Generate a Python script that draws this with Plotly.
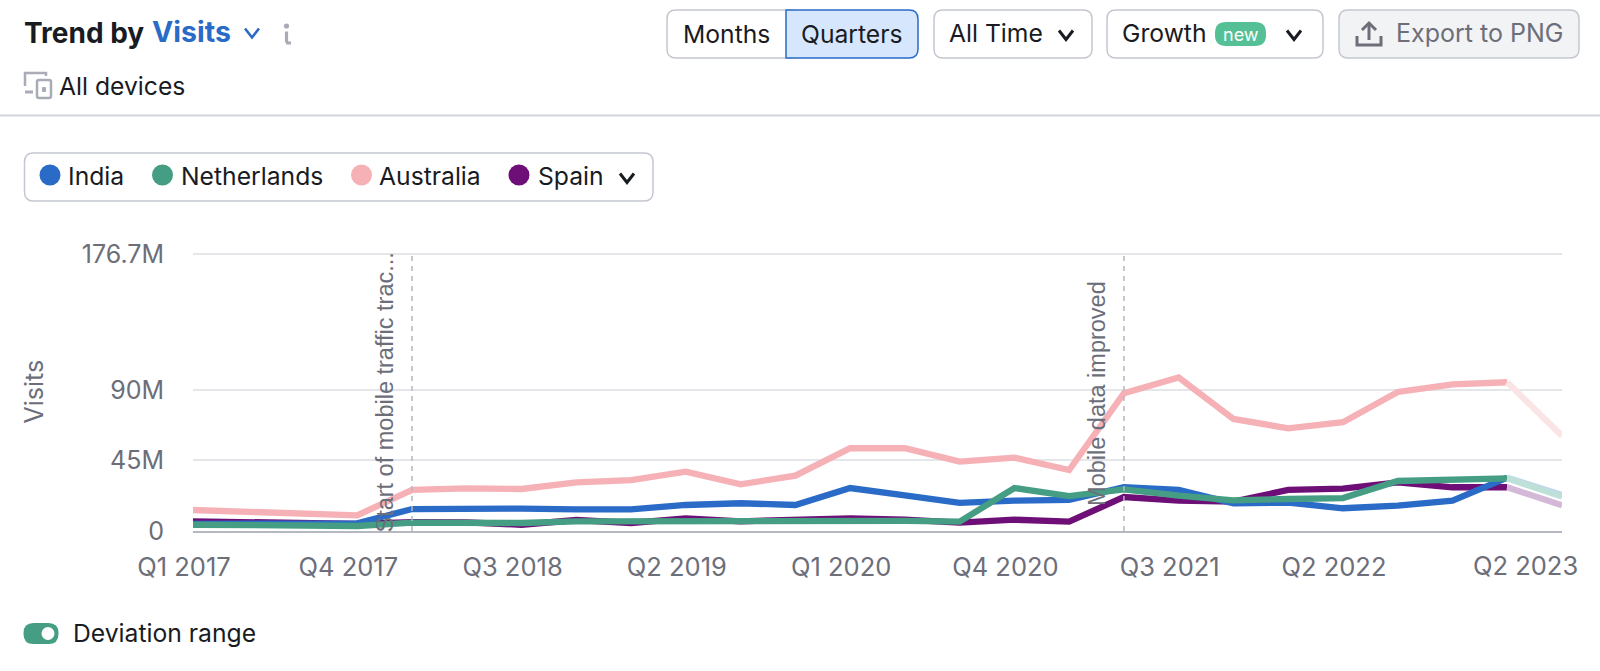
import plotly.graph_objects as go

quarters = [f"Q{q} {y}" for y in range(2017, 2024) for q in range(1, 5)][:26]
india = [4.5, 4.9, 5.0, 4.9, 14.0, 14.5, 14.3, 13.8, 13.8, 16.6, 17.7, 16.6, 27.4, 22.8, 17.9, 19.4, 19.8, 27.9, 26.2, 17.7, 18.1, 14.5, 16.2, 19.4, 34.0, 23.0]
netherlands = [4.0, 3.6, 3.2, 3.2, 5.3, 5.3, 5.1, 6.2, 6.4, 6.6, 6.0, 6.8, 6.8, 6.4, 6.0, 27.4, 22.3, 26.6, 22.6, 19.6, 20.4, 21.0, 31.9, 33.0, 33.6, 22.0]
australia = [13.4, 12.3, 10.6, 10.0, 26.2, 27.2, 26.8, 31.0, 32.5, 37.9, 29.8, 35.3, 52.8, 52.8, 44.3, 46.8, 38.9, 87.9, 98.0, 71.5, 65.5, 69.4, 88.7, 93.6, 94.9, 60.6]
spain = [6.2, 5.3, 4.7, 4.5, 5.7, 5.5, 4.0, 7.0, 5.1, 8.0, 6.2, 7.4, 8.1, 7.2, 5.3, 7.2, 6.0, 21.7, 19.4, 18.7, 26.2, 27.0, 31.0, 27.9, 27.9, 16.4]
y_ticks = [0, 45, 90, 176.7]
y_labels = ["0", "45M", "90M", "176.7M"]
x_tick_labels = ["Q1 2017", "Q4 2017", "Q3 2018", "Q2 2019", "Q1 2020", "Q4 2020", "Q3 2021", "Q2 2022"]
last_label = "Q2 2023"

W, H = 1600, 671
L, R, T, B = 193, 1562, 252, 531
FONT = "Inter"
DARK, GRAY = "#191B23", "#6C6E79"
BLUE, GREEN, PINK, PURPLE = "#2A6BC7", "#459E84", "#F5B1B6", "#6E0F78"
ICON = "#A9ABB6"
TXT = 24.7
Y_TOP = (B - T) / 1.5675


def fx(p):
    return (p - L) / (R - L)


def fy(p):
    return (B - p) / (B - T)


fig = go.Figure()
for name, vals, col, pale in [("Australia", australia, PINK, "#FBE4E5"), ("Spain", spain, PURPLE, "#D4B8D8"),
                              ("India", india, BLUE, "#BFD3EF"), ("Netherlands", netherlands, GREEN, "#BDE0D8")]:
    fig.add_trace(go.Scatter(x=quarters[:-1], y=vals[:-1], mode="lines", name=name,
                             line=dict(color=col, width=6.3), showlegend=False))
    fig.add_trace(go.Scatter(x=quarters[-2:], y=vals[-2:], mode="lines", name=name + " (partial)",
                             line=dict(color=pale, width=6.3), showlegend=False))

shapes, ann = [], []


def rect(x0, y0, x1, y1, fill="white", line="#C4C7CF", lw=1.5, r=9, rl=None):
    rl = r if rl is None else rl
    path = (f"M{fx(x0+rl)},{fy(y0)} L{fx(x1-r)},{fy(y0)} Q{fx(x1)},{fy(y0)} {fx(x1)},{fy(y0+r)} "
            f"L{fx(x1)},{fy(y1-r)} Q{fx(x1)},{fy(y1)} {fx(x1-r)},{fy(y1)} "
            f"L{fx(x0+rl)},{fy(y1)} Q{fx(x0)},{fy(y1)} {fx(x0)},{fy(y1-rl)} "
            f"L{fx(x0)},{fy(y0+rl)} Q{fx(x0)},{fy(y0)} {fx(x0+rl)},{fy(y0)} Z")
    shapes.append(dict(type="path", xref="paper", yref="paper", path=path, fillcolor=fill,
                       line=dict(color=line, width=lw), layer="above"))


def stroke(pts, color=DARK, lw=3):
    path = "M" + " L".join(f"{fx(x)},{fy(y)}" for x, y in pts)
    shapes.append(dict(type="path", xref="paper", yref="paper", path=path,
                       line=dict(color=color, width=lw), layer="above"))


def chevron(cx, cy, color=DARK, w=7, h=4.5, lw=3):
    stroke([(cx - w, cy - h), (cx, cy + h), (cx + w, cy - h)], color, lw)


def dot(cx, cy, r, col):
    shapes.append(dict(type="circle", xref="paper", yref="paper", x0=fx(cx-r), x1=fx(cx+r),
                       y0=fy(cy+r), y1=fy(cy-r), fillcolor=col, line=dict(width=0), layer="above"))


def text(x, y, s, size=TXT, color=DARK, anchor="left"):
    ann.append(dict(xref="paper", yref="paper", x=fx(x - (2.5 if anchor == "left" else 0)), y=fy(y), text=s,
                    showarrow=False, xanchor=anchor, yanchor="middle",
                    font=dict(family=FONT, size=size, color=color)))


# header
text(24, 33, "<b>Trend by</b>", 28)
text(152, 31, "<b>Visits</b>", 28.5, BLUE)
chevron(252, 33, BLUE, lw=2.6)
dot(286.5, 26, 2.6, ICON)
stroke([(285, 33), (286.5, 33), (286.5, 41), (287.5, 43), (291, 43)], ICON, 3.2)
stroke([(46, 76), (46, 73), (25, 73), (25, 86)], ICON, 2.5)
stroke([(25, 92), (33, 92)], ICON, 3)
rect(37, 80, 51, 98, fill="white", line=ICON, lw=2.5, r=2)
rect(42, 87, 46, 92, fill=ICON, line=ICON, lw=0, r=1)
text(59, 86, "All devices")
shapes.append(dict(type="line", xref="paper", yref="paper", x0=fx(0), x1=fx(W), y0=fy(115.5), y1=fy(115.5),
                   line=dict(color="#D1D4DB", width=2), layer="above"))

# buttons
rect(667, 10, 800, 58)
rect(786, 10, 918, 58, fill="#D6E7FD", line=BLUE, r=9, rl=0.01)
text(726, 34, "Months", TXT, DARK, "center")
text(852, 34, "Quarters", TXT, DARK, "center")
rect(934, 10, 1092, 58)
text(949, 33, "All Time")
chevron(1066, 35)
rect(1107, 10, 1323, 58)
text(1122, 33, "Growth")
rect(1215, 22, 1266, 46, fill="#55BF96", line="#55BF96", lw=0, r=11)
text(1240.5, 34, "new", 18, "white", "center")
chevron(1294, 35)
rect(1339, 10, 1579, 58, fill="#F2F3F5")
text(1396, 33, "Export to PNG", 25, GRAY)
stroke([(1357, 36), (1357, 45), (1381, 45), (1381, 36)], GRAY, 3)
stroke([(1369, 40), (1369, 23)], GRAY, 3)
stroke([(1362, 30), (1369, 23), (1376, 30)], GRAY, 3)

# legend box
rect(24.5, 153, 653, 201)
for cx, col, lab, tx in [(50, BLUE, "India", 68), (162.5, GREEN, "Netherlands", 181),
                         (361.5, PINK, "Australia", 379.5), (519, PURPLE, "Spain", 538)]:
    dot(cx, 175, 10.5, col)
    text(tx, 176, lab)
chevron(627, 178)

# toggle
rect(23.5, 623, 58.5, 644, fill=GREEN, line=GREEN, lw=0, r=10)
dot(48, 633.5, 6.5, "white")
text(73.5, 632.5, "Deviation range")

# event lines
for q, label, shift, yc in [("Q1 2018", "Start of mobile traffic trac...", -28, 392.5),
                            ("Q2 2021", "Mobile data improved", -27, 393)]:
    shapes.append(dict(type="line", xref="x", yref="paper", x0=q, x1=q, y0=0, y1=1,
                       line=dict(color="#B5B8C0", width=1.5, dash="5px,5px"), layer="above"))
    ann.append(dict(xref="x", yref="paper", x=q, y=fy(yc), xshift=shift, text=label, textangle=-90,
                    showarrow=False, xanchor="center", yanchor="middle",
                    font=dict(family="Liberation Sans", size=23.5, color=GRAY)))

# last tick label keeps the right edge of the plot
ann.append(dict(xref="x", yref="paper", x=quarters[-1], y=0, yshift=-34, text=last_label, showarrow=False,
                xanchor="right", yanchor="middle", xshift=18, font=dict(family=FONT, size=25.5, color=GRAY)))
ann.append(dict(xref="paper", yref="paper", x=fx(33.5), y=fy(392), text="Visits", textangle=-90, showarrow=False,
                xanchor="center", yanchor="middle", font=dict(family=FONT, size=25, color=GRAY)))

fig.update_layout(
    width=W, height=H, margin=dict(l=L, r=W-R, t=T, b=H-B, pad=0, autoexpand=False),
    plot_bgcolor="white", paper_bgcolor="white", showlegend=False,
    shapes=shapes, annotations=ann, font=dict(family=FONT),
    xaxis=dict(type="category", categoryorder="array", categoryarray=quarters, range=[0, 25],
               tickmode="array", tickvals=x_tick_labels, ticktext=x_tick_labels, ticklabelshift=-9,
               showgrid=False, zeroline=False, showline=True, linecolor="#B5B8C0", linewidth=2,
               ticks="outside", ticklen=12, tickcolor="rgba(0,0,0,0)",
               tickangle=0, tickfont=dict(family=FONT, size=25.5, color=GRAY), ticklabeloverflow="allow"),
    yaxis=dict(range=[0, Y_TOP], tickmode="array", tickvals=y_ticks, ticktext=y_labels,
               gridcolor="#E4E6EA", gridwidth=1.5, zeroline=False, showline=False, ticks="outside",
               ticklen=23, tickcolor="rgba(0,0,0,0)",
               tickfont=dict(family=FONT, size=25, color=GRAY)),
)

fig.write_html("out.html", config={"displayModeBar": False}, post_script="document.body.style.margin='0';")
